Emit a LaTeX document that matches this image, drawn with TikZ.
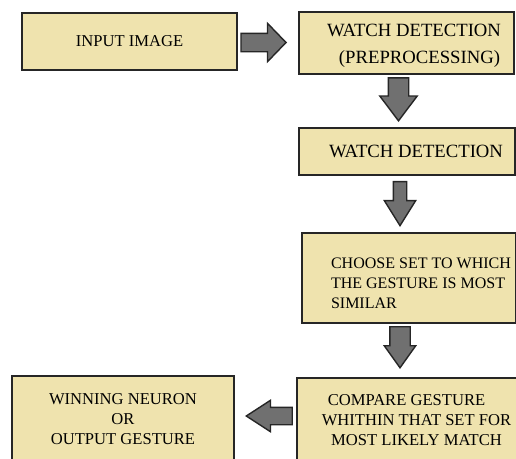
\documentclass[tikz,border=0pt]{standalone}
\usepackage{fontspec}
\setmainfont{Liberation Serif}
\usetikzlibrary{positioning,shapes.arrows}
\definecolor{boxfill}{HTML}{EFE3AE}
\definecolor{arrowfill}{HTML}{707070}
\tikzset{stagebox/.style={rectangle, draw=black!85, line width=0.4mm, fill=boxfill, align=center, inner sep=0pt, font=\fontsize{11.8}{14.4}\selectfont},
bigtext/.style={font=\fontsize{13.3}{15}\selectfont},
blockarrow/.style={single arrow, draw=black!85, line width=0.35mm, fill=arrowfill, single arrow head indent=0pt, anchor=tip}}

\begin{document}
\begin{tikzpicture}[x=0.25mm,y=-0.25mm]
\useasboundingbox (0,0) rectangle (516,458);
% boxes
\node[stagebox, minimum width=53.75mm, minimum height=14.25mm] (input) at (129.5,41.5) {INPUT IMAGE};
\node[stagebox, bigtext, minimum width=53.75mm, minimum height=15.5mm] (prep) at (406.5,43) {\rule{0pt}{4.6mm}\hspace*{3.75mm}WATCH DETECTION\\[4pt] \hspace*{6.5mm}(PREPROCESSING)};
\node[stagebox, bigtext, minimum width=54mm, minimum height=11.75mm] (watch) at (407,151.5) {\hspace*{4.5mm}WATCH DETECTION};
\node[stagebox, minimum width=53.5mm, minimum height=22.5mm, align=left, font=\fontsize{11.4}{14.4}\selectfont] (choose) at (409,278) {\rule{0pt}{5.2mm}\hspace*{6mm}CHOOSE SET TO WHICH\\\hspace*{6mm}THE GESTURE IS MOST\\\hspace*{6mm}SIMILAR};
\node[stagebox, minimum width=55.25mm, minimum height=21mm] (compare) at (407.5,420) {\hspace*{4.5mm}COMPARE GESTURE\hspace*{5mm}\\\hspace*{4.5mm}WHITHIN THAT SET FOR\\\hspace*{4.5mm}MOST LIKELY MATCH};
\node[stagebox, minimum width=55.5mm, minimum height=21.5mm] (output) at (123,419) {WINNING NEURON\\OR\\OUTPUT GESTURE};
% block arrows
\node[blockarrow, minimum height=11.25mm, inner sep=2.125mm, single arrow head extend=2.5mm, single arrow tip angle=92] (a1) at (287,42.5) {};
\node[blockarrow, shape border rotate=270, minimum height=10.75mm, inner sep=2.375mm, single arrow head extend=2.125mm, single arrow tip angle=74] (a2) at (398.5,122) {};
\node[blockarrow, shape border rotate=270, minimum height=11mm, inner sep=1.5mm, single arrow head extend=2.25mm, single arrow tip angle=64] (a3) at (400,227) {};
\node[blockarrow, shape border rotate=270, minimum height=10.25mm, inner sep=2.375mm, single arrow head extend=1.375mm, single arrow tip angle=71] (a4) at (400,369) {};
\node[blockarrow, shape border rotate=180, minimum height=11.5mm, inner sep=2mm, single arrow head extend=1.75mm, single arrow tip angle=66] (a5) at (245,416) {};
\end{tikzpicture}
\end{document}
